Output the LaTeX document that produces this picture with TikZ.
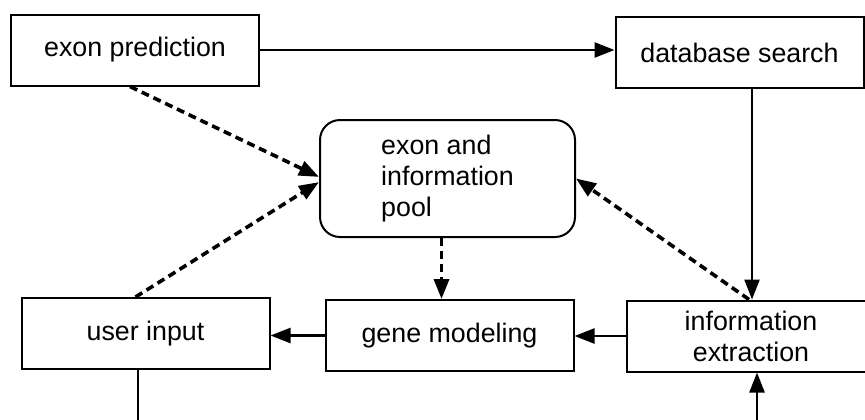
\documentclass[tikz,border=0pt]{standalone}
\usepackage{fontspec}
\setmainfont{Liberation Sans}
\usetikzlibrary{arrows.meta}
\begin{document}
\begin{tikzpicture}[x=0.5pt,y=-0.5pt,
    procbox/.style={draw,line width=1pt,minimum width=124pt,minimum height=35.5pt,
      inner sep=0pt,align=center,font=\fontsize{13.4}{15.5}\selectfont},
    poolbox/.style={procbox,rounded corners=10pt,minimum width=127.5pt,
      minimum height=58.5pt,align=left},
    flow/.style={-{Triangle[length=10pt,width=7.5pt]},line width=1.2pt},
    hint/.style={flow,line width=1.8pt,dash pattern=on 4pt off 2.5pt}]
      \useasboundingbox (0,0) rectangle (865,419);
      \draw
        (135,50) node[procbox] (pred){exon prediction}
        (739.5,52.5) node[procbox] (dbs){database search}
        (447.5,178.5) node[poolbox] (pool){exon and\\information\\pool}
        (145.5,333.5) node[procbox] (user){user input}
        (449.5,335.5) node[procbox] (gene){gene modeling}
        (751,336) node[procbox] (extr){information\\extraction};
      \coordinate (ubot) at (138,430);
      \coordinate (ebot) at (757,430);
      \begin{scope}[flow]
        \draw (pred.east) to (pred.east -| dbs.west);
        \draw ([xshift=0.5pt]dbs.south -| extr.north) to ([xshift=0.5pt]extr.north);
        \draw (extr.west) to (extr.west -| gene.east);
        \draw (gene.west) to (gene.west -| user.east);
        \draw (ebot) to (ebot |- extr.south);
      \end{scope}
      \begin{scope}[-]
        \draw[line width=1.2pt] (user.south -| ubot) to (ubot);
      \end{scope}
      \begin{scope}[hint]
        \draw ([xshift=-2.5pt]pred.south) to ([yshift=0.8pt]pool.west);
        \draw ([xshift=-5pt]user.north) to ([yshift=-1.8pt]pool.west);
        \draw ([xshift=-1pt]extr.north) to (pool.east);
        \draw ([xshift=-3pt]pool.south) to ([xshift=-3pt]pool.south |- gene.north);
      \end{scope}
    \end{tikzpicture}
\end{document}
